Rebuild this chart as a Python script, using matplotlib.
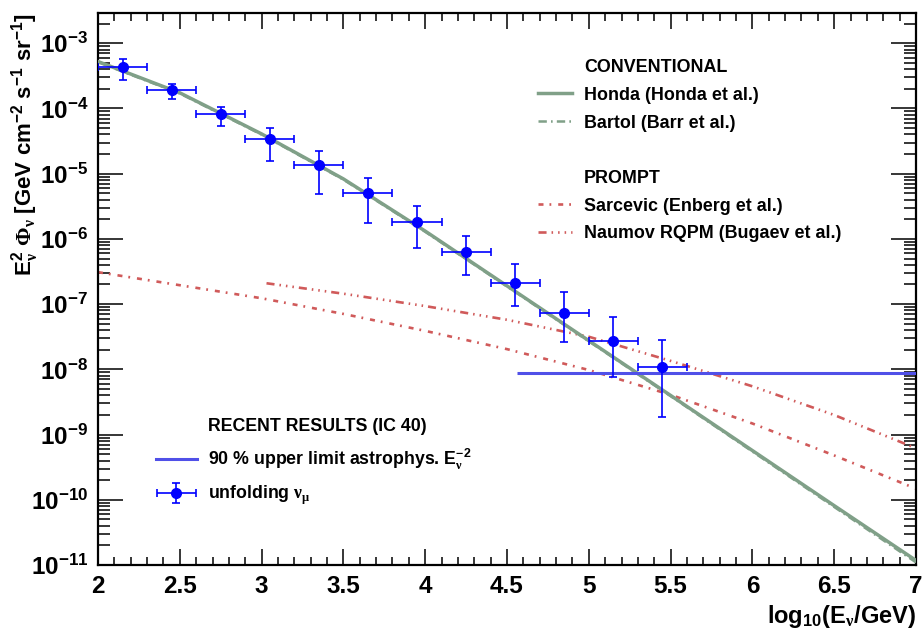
import numpy as np
import matplotlib
matplotlib.use("Agg")
import matplotlib.pyplot as plt
from matplotlib.ticker import MultipleLocator, LogLocator, FormatStrFormatter, NullFormatter
from matplotlib.legend_handler import HandlerErrorbar

plt.rcParams['font.family'] = ['Liberation Sans', 'DejaVu Sans']
plt.rcParams['font.weight'] = 'bold'
plt.rcParams['mathtext.fontset'] = 'custom'
plt.rcParams['mathtext.rm'] = 'Liberation Sans:bold'
plt.rcParams['mathtext.bf'] = 'Liberation Sans:bold'
plt.rcParams['mathtext.it'] = 'Liberation Sans:bold:italic'
plt.rcParams['mathtext.sf'] = 'Liberation Serif'
plt.rcParams['mathtext.default'] = 'rm'
plt.rcParams['axes.unicode_minus'] = False
plt.rcParams['lines.scale_dashes'] = False

# unfolded nu_mu spectrum (IC40)
unf_x = [2.15, 2.45, 2.75, 3.05, 3.35, 3.65, 3.95, 4.25, 4.55, 4.85, 5.15, 5.45]
unf_y = [4.3e-4, 1.93e-4, 8.3e-5, 3.4e-5, 1.35e-5, 5.1e-6, 1.8e-6, 6.2e-7,
         2.1e-7, 7.3e-8, 2.68e-8, 1.07e-8]
unf_hi = [5.7e-4, 2.41e-4, 1.07e-4, 5.1e-5, 2.2e-5, 8.6e-6, 3.2e-6, 1.12e-6,
          4.1e-7, 1.55e-7, 6.3e-8, 2.8e-8]
unf_lo = [2.75e-4, 1.39e-4, 5.3e-5, 1.58e-5, 4.9e-6, 1.77e-6, 7.2e-7, 2.77e-7,
          9.4e-8, 2.66e-8, 7.7e-9, 1.88e-9]
unf_xerr = 0.15

# 90% upper limit astrophysical E^-2
ul_x = [4.56, 7.0]
ul_flux = 8.9e-9

# conventional atmospheric (log10 of flux)
conv_x = [2.0, 2.5, 3.0, 3.5, 4.0, 4.5, 5.0, 5.5, 6.0, 6.5, 7.0]
honda_log = [-3.28, -3.76, -4.39, -5.08, -5.88, -6.72, -7.56, -8.40, -9.245, -10.09, -10.93]
bartol_log = [-3.29, -3.77, -4.40, -5.09, -5.89, -6.73, -7.57, -8.41, -9.26, -10.11, -10.96]

# prompt
sarc_x = [2.0, 2.5, 3.0, 3.5, 4.0, 4.5, 5.0, 5.5, 6.0, 6.5, 7.0]
sarc_log = [-6.51, -6.71, -6.91, -7.15, -7.41, -7.69, -8.01, -8.39, -8.83, -9.32, -9.83]
naum_x = [3.03, 3.5, 4.0, 4.5, 5.0, 5.5, 6.0, 6.5, 7.0]
naum_log = [-6.68, -6.84, -7.03, -7.24, -7.50, -7.87, -8.26, -8.70, -9.21]

green = '#80a088'
red = '#d05a5a'

fig = plt.figure(figsize=(9.22, 6.31), dpi=100)
ax = fig.add_axes([98/922, 1-565/631, (916-98)/922, (565-13.3)/631])

l_honda, = ax.plot(conv_x, 10**np.array(honda_log), color=green, lw=2.5, zorder=3)
l_bartol, = ax.plot(conv_x, 10**np.array(bartol_log), color=green, lw=1.8,
                    linestyle=(0, (6, 3, 1.2, 3)), zorder=3)
l_sarc, = ax.plot(sarc_x, 10**np.array(sarc_log), color=red, lw=1.9,
                  linestyle=(0, (3.6, 4.3, 1.3, 5)))
l_naum, = ax.plot(naum_x, 10**np.array(naum_log), color=red, lw=1.9,
                  linestyle=(0, (5.8, 3.6, 1.1, 3.6, 1.1, 3.6, 1.1, 3.6)))
ax.hlines(ul_flux, ul_x[0], ul_x[1], color='#5050e8', lw=2.2, zorder=4)
l_ul_h = plt.Line2D([], [], color='#5050e8', lw=2.2)

yerr = [np.array(unf_y) - np.array(unf_lo), np.array(unf_hi) - np.array(unf_y)]
eb = ax.errorbar(unf_x, unf_y, xerr=unf_xerr, yerr=yerr, fmt='o', color='#0000ff',
                 ms=7, elinewidth=1.2, capsize=3, capthick=1.2, zorder=5)

ax.set_xlim(2, 7)
ax.set_yscale('log')
ax.set_ylim(1e-11, 2.88e-3)

ax.xaxis.set_major_locator(MultipleLocator(0.5))
ax.xaxis.set_minor_locator(MultipleLocator(0.1))
ax.xaxis.set_major_formatter(FormatStrFormatter('%g'))
ax.yaxis.set_major_locator(LogLocator(base=10, numticks=20))
ax.yaxis.set_minor_locator(LogLocator(base=10, subs=np.arange(2, 10), numticks=20))
ax.yaxis.set_minor_formatter(NullFormatter())

ax.tick_params(axis='both', which='both', direction='in', top=True, right=True,
               labelsize=17.5, width=1.1, pad=7)
ax.tick_params(axis='x', which='major', length=11.5)
ax.tick_params(axis='x', which='minor', length=5.8)
ax.tick_params(axis='y', which='major', length=18)
ax.tick_params(axis='y', which='minor', length=8.6)
for s in ax.spines.values():
    s.set_linewidth(1.6)

ax.set_ylabel(r'E$^{2}_{\mathsf{\nu}}$ $\mathsf{\Phi}_{\mathsf{\nu}}$ [GeV cm$^{-2}$ s$^{-1}$ sr$^{-1}$]',
              fontsize=16, fontweight='bold')
ax.yaxis.set_label_coords(-57/818, 1 - (145-13.3)/552)
ax.set_xlabel(r'log$_{10}$(E$_{\mathsf{\nu}}$/GeV)', fontsize=17, fontweight='bold')
ax.xaxis.label.set_horizontalalignment('right')
ax.xaxis.set_label_coords(1.0, -(603-565)/552)

blank = plt.Line2D([], [], color='none')
leg1 = ax.legend([blank, l_honda, l_bartol, blank, blank, l_sarc, l_naum],
                 ['CONVENTIONAL', 'Honda (Honda et al.)', 'Bartol (Barr et al.)', ' ',
                  'PROMPT', 'Sarcevic (Enberg et al.)', 'Naumov RQPM (Bugaev et al.)'],
                 loc='upper left', bbox_to_anchor=(538/922, 1-59/631),
                 bbox_transform=fig.transFigure, frameon=False, borderpad=0,
                 borderaxespad=0, handlelength=1.9, handletextpad=0.66,
                 labelspacing=0.6, prop={'size': 12.9, 'weight': 'bold'})
ax.add_artist(leg1)
ax.legend([blank, l_ul_h, eb],
          ['RECENT RESULTS (IC 40)', r'90 % upper limit astrophys. E$_{\mathsf{\nu}}^{-2}$',
           r'unfolding $\mathsf{\nu}_{\mathsf{\mu}}$'],
          handler_map={eb: HandlerErrorbar(xerr_size=1.1, yerr_size=0.55)},
          loc='upper left', bbox_to_anchor=(156/922, 1-418/631),
          bbox_transform=fig.transFigure, frameon=False, borderpad=0,
          borderaxespad=0, handlelength=2.3, handletextpad=0.6,
          labelspacing=0.68, prop={'size': 12.8, 'weight': 'bold'})

fig.savefig('out.png', dpi=100)
